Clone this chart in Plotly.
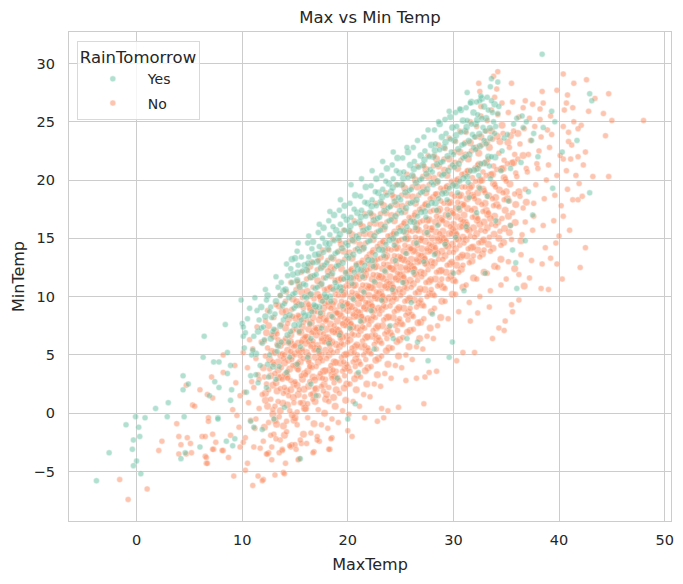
import plotly.graph_objects as go

# RainTomorrow = "Yes": (MaxTemp, MinTemp)
yes_pts = [
    (-3.8, -5.8), (-2.6, -3.4), (-1.0, -1.0), (-0.1, -0.3), (0.2, -1.2), (-0.3, -2.3), (0.3, -2.0),
    (-0.4, -3.1), (0.0, -4.1), (-0.3, -4.5), (0.4, -5.2), (0.8, -0.4), (1.8, 0.4), (2.9, -0.3),
    (3.0, 0.9), (4.4, 3.2), (4.4, 2.0), (4.9, 2.5), (4.5, -0.3), (4.2, -3.9), (4.6, -3.4), (6.4, 6.6),
    (6.3, 4.8), (7.3, 4.4), (7.8, 4.4), (8.4, 7.6), (8.9, 1.1), (6.0, -2.9), (7.7, -0.4), (9.1, -2.8),
    (9.3, -2.2), (9.9, 9.7), (10.1, 6.6), (10.0, 7.7), (8.6, 5.2), (8.9, 4.1), (8.6, 3.4), (9.0, 2.0),
    (7.4, 2.7), (7.8, 2.2), (6.9, 1.5), (11.1, -1.2), (11.9, -1.4), (10.8, -0.7), (20.7, 0.8),
    (20.0, -0.5), (15.5, -3.9), (7.7, -0.5), (8.5, -2.4),
    (38.4, 30.8), (42.9, 27.4), (43.1, 26.8), (34.2, 28.4), (33.6, 28.7), (33.5, 28.0), (31.3, 27.5),
    (32.5, 26.8), (39.6, 25.0), (39.3, 25.9), (38.5, 24.5), (36.0, 25.3), (36.5, 25.5), (36.9, 25.0),
    (36.6, 24.5), (37.6, 24.0), (37.4, 23.4), (40.3, 22.4), (41.7, 23.4), (42.9, 18.9), (39.4, 19.3),
    (35.4, 16.1), (35.9, 12.9), (36.0, 10.7), (29.6, 4.8), (27.6, 4.5), (26.6, 6.1), (25.6, 6.4),
    (24.3, 6.4), (29.9, 6.1),
    (10.2, 5.6), (10.5, 8.1), (10.8, 3.2), (10.3, 6.9), (10.7, 9.0), (10.4, 1.8), (10.9, 5.0), (10.1, 7.4),
    (11.1, 6.6), (11.4, 8.8), (11.7, 4.1), (11.2, 9.9), (11.8, 7.3), (11.5, 2.6), (11.0, 5.4), (11.6, 8.0),
    (11.3, 3.3), (11.9, 6.0),
    (12.0, 7.4), (12.3, 9.7), (12.6, 5.0), (12.2, 10.6), (12.8, 8.2), (12.5, 3.1), (12.1, 6.3), (12.7, 9.1),
    (12.4, 4.2), (12.9, 7.0), (12.3, 2.2), (12.6, 8.7),
    (13.1, 8.5), (13.4, 10.8), (13.7, 6.1), (13.2, 11.7), (13.8, 9.2), (13.5, 4.0), (13.0, 7.2), (13.6, 10.1),
    (13.3, 5.3), (13.9, 8.0), (13.2, 2.9), (13.7, 11.2),
    (14.0, 9.4), (14.3, 11.8), (14.6, 7.0), (14.2, 12.8), (14.8, 10.2), (14.5, 4.8), (14.1, 8.3), (14.7, 11.2),
    (14.4, 6.1), (14.9, 9.0), (14.2, 3.5), (14.6, 12.4),
    (15.0, 10.3), (15.3, 12.7), (15.6, 8.0), (15.2, 13.9), (15.8, 11.1), (15.5, 5.7), (15.1, 9.2), (15.7, 12.2),
    (15.4, 7.0), (15.9, 10.0), (15.2, 4.2), (15.6, 13.4), (15.3, 14.6), (15.8, 8.6),
    (16.0, 11.0), (16.3, 13.4), (16.6, 8.7), (16.2, 14.6), (16.8, 11.8), (16.5, 6.4), (16.1, 9.9), (16.7, 12.9),
    (16.4, 7.7), (16.9, 10.7), (16.2, 4.8), (16.6, 14.1), (16.3, 15.2), (16.8, 9.3),
    (17.0, 11.9), (17.3, 14.3), (17.6, 9.6), (17.2, 15.5), (17.8, 12.7), (17.5, 7.3), (17.1, 10.8), (17.7, 13.8),
    (17.4, 8.6), (17.9, 11.6), (17.2, 5.4), (17.6, 15.0), (17.3, 16.2), (17.8, 10.2),
    (18.0, 12.9), (18.3, 15.3), (18.6, 10.6), (18.2, 16.5), (18.8, 13.7), (18.5, 8.3), (18.1, 11.8), (18.7, 14.8),
    (18.4, 9.6), (18.9, 12.6), (18.2, 6.0), (18.6, 16.0), (18.3, 17.3), (18.8, 11.2),
    (19.0, 13.8), (19.3, 16.2), (19.6, 11.5), (19.2, 17.4), (19.8, 14.6), (19.5, 9.2), (19.1, 12.7), (19.7, 15.7),
    (19.4, 10.5), (19.9, 13.5), (19.2, 6.7), (19.6, 16.9), (19.3, 18.3), (19.8, 12.1),
    (20.0, 14.4), (20.3, 16.8), (20.6, 12.1), (20.2, 18.0), (20.8, 15.2), (20.5, 9.8), (20.1, 13.3), (20.7, 16.3),
    (20.4, 11.1), (20.9, 14.1), (20.2, 7.3), (20.6, 17.5), (20.3, 19.6), (20.8, 12.7),
    (21.0, 15.0), (21.3, 17.4), (21.6, 12.7), (21.2, 18.6), (21.8, 15.8), (21.5, 10.4), (21.1, 13.9), (21.7, 16.9),
    (21.4, 11.7), (21.9, 14.7), (21.2, 7.9), (21.6, 18.1), (21.3, 20.1),
    (22.0, 15.9), (22.3, 18.3), (22.6, 13.6), (22.2, 19.5), (22.8, 16.7), (22.5, 11.3), (22.1, 14.8), (22.7, 17.8),
    (22.4, 12.6), (22.9, 15.6), (22.2, 8.8), (22.6, 19.0), (22.3, 20.8),
    (23.0, 16.8), (23.3, 19.2), (23.6, 14.5), (23.2, 20.4), (23.8, 17.6), (23.5, 12.2), (23.1, 15.7), (23.7, 18.7),
    (23.4, 13.5), (23.9, 16.5), (23.2, 9.7), (23.6, 19.9), (23.3, 21.6),
    (24.0, 17.7), (24.3, 20.1), (24.6, 15.4), (24.2, 21.3), (24.8, 18.5), (24.5, 13.1), (24.1, 16.6), (24.7, 19.6),
    (24.4, 14.4), (24.9, 17.4), (24.2, 10.6), (24.6, 20.8), (24.3, 22.4),
    (25.0, 18.3), (25.3, 20.7), (25.6, 16.0), (25.2, 21.9), (25.8, 19.1), (25.5, 13.7), (25.1, 17.2), (25.7, 20.2),
    (25.4, 15.0), (25.9, 18.0), (25.2, 11.2), (25.6, 22.8),
    (26.0, 19.2), (26.3, 21.6), (26.6, 16.9), (26.2, 22.8), (26.8, 20.0), (26.5, 14.6), (26.1, 18.1), (26.7, 21.1),
    (26.4, 15.9), (26.9, 18.9), (26.2, 12.1), (26.6, 23.4),
    (27.0, 20.1), (27.3, 22.5), (27.6, 17.8), (27.2, 23.7), (27.8, 20.9), (27.5, 15.5), (27.1, 19.0), (27.7, 22.0),
    (27.4, 16.8), (27.9, 19.8), (27.2, 13.0), (27.6, 24.3),
    (28.0, 20.7), (28.3, 23.1), (28.6, 18.4), (28.2, 24.3), (28.8, 21.5), (28.5, 16.1), (28.1, 19.6), (28.7, 22.6),
    (28.4, 17.4), (28.9, 20.4), (28.2, 13.6), (28.6, 25.0),
    (29.0, 21.6), (29.3, 24.0), (29.6, 19.3), (29.2, 25.2), (29.8, 22.4), (29.5, 17.0), (29.1, 20.5), (29.7, 23.5),
    (29.4, 18.3), (29.9, 21.3), (29.2, 14.5), (29.6, 25.9),
    (30.0, 22.2), (30.3, 24.6), (30.6, 19.9), (30.2, 25.8), (30.8, 23.0), (30.5, 17.6), (30.1, 21.1), (30.7, 24.1),
    (30.4, 18.9), (30.9, 21.9), (30.2, 15.1), (30.6, 26.1),
    (31.0, 23.1), (31.3, 25.1), (31.6, 20.8), (31.2, 26.2), (31.8, 23.9), (31.5, 18.5), (31.1, 22.0), (31.7, 24.8),
    (31.4, 19.8), (31.9, 22.8), (31.2, 16.0), (31.6, 26.6),
    (32.0, 23.7), (32.3, 25.6), (32.6, 21.4), (32.2, 26.7), (32.8, 24.5), (32.5, 19.3), (32.1, 22.6), (32.7, 25.3),
    (32.4, 20.4), (32.9, 23.4), (32.2, 17.2), (32.6, 27.2),
    (33.0, 24.2), (33.3, 26.0), (33.6, 22.0), (33.2, 27.1), (33.8, 25.0), (33.5, 20.1), (33.1, 23.1), (33.7, 25.8),
    (33.4, 21.2), (33.9, 24.0), (33.2, 18.6), (33.6, 26.8),
    (34.0, 24.6), (34.3, 26.3), (34.6, 22.5), (34.2, 25.7), (34.8, 23.6), (34.5, 20.8),
    (35.1, 23.9), (35.4, 21.0), (35.7, 24.8), (35.2, 18.2),
    (36.4, 21.5), (37.1, 19.0), (38.0, 22.0), (36.8, 14.8), (37.5, 17.0), (35.6, 14.0), (33.0, 12.0),
    (31.0, 10.5), (28.0, 8.5), (26.0, 9.5), (22.5, 5.5), (24.0, 7.5), (19.0, 3.0), (17.0, 1.5), (14.0, 0.5),
    (13.0, -0.5), (16.5, 2.5), (21.0, 3.5), (30.0, 12.0), (34.0, 16.5),
]

# extra "Yes" points inside the crowded part of the band
yes_core = [
    (11.3, 5.1), (11.8, 9.1), (11.5, 7.0),
    (12.2, 8.3), (12.7, 6.4), (12.4, 10.1), (12.9, 4.0),
    (13.2, 9.6), (13.6, 7.5), (13.9, 10.5), (13.4, 5.8),
    (14.1, 10.6), (14.5, 8.4), (14.8, 11.9), (14.3, 6.7), (14.7, 13.2),
    (15.2, 11.4), (15.6, 9.3), (15.9, 12.7), (15.4, 7.6), (15.0, 13.3),
    (16.1, 12.3), (16.5, 10.2), (16.9, 13.6), (16.3, 8.4), (16.7, 14.7),
    (17.1, 13.0), (17.5, 11.1), (17.9, 14.6), (17.3, 9.1), (17.7, 15.9),
    (18.1, 14.1), (18.5, 12.0), (18.9, 15.7), (18.3, 10.0), (18.7, 17.0),
    (19.1, 15.0), (19.5, 12.9), (19.9, 16.6), (19.3, 10.8), (19.7, 17.8),
    (20.1, 15.6), (20.5, 13.6), (20.9, 17.2), (20.3, 11.6), (20.7, 18.7),
    (21.1, 16.4), (21.5, 14.2), (21.9, 18.0), (21.3, 12.3), (21.7, 19.4),
    (22.1, 17.2), (22.5, 15.2), (22.9, 18.9), (22.3, 13.1), (22.7, 20.1),
    (23.1, 18.1), (23.5, 16.0), (23.9, 19.7), (23.3, 14.0), (23.7, 21.0),
    (24.1, 19.0), (24.5, 16.9), (24.9, 20.6), (24.3, 15.0), (24.7, 21.9),
    (25.1, 19.6), (25.5, 17.6), (25.9, 21.3), (25.3, 15.6), (25.7, 22.4),
    (26.1, 20.4), (26.5, 18.3), (26.9, 22.1), (26.3, 16.4),
    (27.1, 21.3), (27.5, 19.2), (27.9, 23.0), (27.3, 17.3),
    (28.1, 22.0), (28.5, 19.9), (28.9, 23.7), (28.3, 18.0), (28.7, 24.8),
    (29.1, 22.8), (29.5, 20.8), (29.9, 24.5), (29.3, 18.9), (29.7, 25.4),
    (30.1, 23.4), (30.5, 21.4), (30.9, 25.1), (30.3, 19.5), (30.7, 26.0),
    (31.1, 24.2), (31.5, 22.2), (31.9, 25.8), (31.3, 20.3), (31.7, 26.7),
    (32.1, 24.8), (32.5, 22.9), (32.9, 26.3), (32.3, 21.0), (32.7, 27.0),
    (33.1, 25.3), (33.5, 23.6), (33.9, 26.5), (33.3, 22.0),
    (14.45, 9.95), (14.95, 7.55), (15.45, 10.85), (15.95, 8.35), (15.25, 12.05),
    (16.45, 11.65), (16.95, 9.15), (16.25, 12.85), (17.45, 12.45), (17.95, 9.95), (17.25, 13.65),
    (18.45, 13.35), (18.95, 10.85), (18.25, 14.55), (19.45, 14.15), (19.95, 11.65), (19.25, 15.35),
    (20.45, 14.85), (20.95, 12.35), (20.25, 16.05), (21.45, 15.65), (21.95, 13.15), (21.25, 16.85),
    (22.45, 16.55), (22.95, 14.05), (22.25, 17.75), (23.45, 17.35), (23.95, 14.85), (23.25, 18.55),
    (24.45, 18.15), (24.95, 15.65), (24.25, 19.35), (25.45, 18.95), (25.95, 16.45), (25.25, 20.15),
    (26.45, 19.75), (26.95, 17.25), (26.25, 20.95), (27.45, 20.55), (27.95, 18.05), (27.25, 21.75),
    (28.45, 21.35), (28.95, 18.85), (28.25, 22.55), (29.45, 22.05), (29.95, 19.55), (29.25, 23.25),
    (30.45, 22.65), (30.95, 20.15), (30.25, 23.85), (31.45, 23.35), (31.95, 20.85), (31.25, 24.55),
    (32.45, 23.95), (32.95, 21.45), (32.25, 25.15), (33.45, 24.45), (33.95, 21.95),
]

# RainTomorrow = "No"
no_pts = [
    (-1.6, -5.7), (-0.8, -7.4), (1.0, -6.5), (2.1, -3.2), (2.4, -2.4), (3.8, -0.9), (4.0, -2.0), (4.0, -3.5),
    (4.2, -2.7), (4.7, -3.5), (4.8, -2.1), (5.1, -2.6), (5.2, -3.4), (5.3, 0.7), (5.5, 0.6), (4.7, 2.4),
    (6.0, 2.0), (6.7, 1.6), (7.2, 1.3), (6.8, -0.4), (6.8, -0.7), (6.2, -2.0), (6.5, -2.0), (6.5, -3.7),
    (6.6, -4.3), (7.3, -3.1), (7.2, -1.8), (7.5, -2.5), (8.2, -3.2), (8.7, -3.8), (8.9, -1.9), (7.1, 3.1),
    (8.2, 5.0), (8.2, 3.5), (9.2, -5.4), (9.8, -2.9), (10.3, -4.9), (10.5, -4.3), (11.0, -6.2), (11.5, -5.4),
    (12.0, -5.7), (12.5, -3.4), (13.1, -5.3), (13.9, -5.1), (14.1, -4.3), (12.8, -2.9), (13.8, -3.1),
    (14.7, -2.7), (15.4, -3.9), (15.6, -2.6), (16.8, -3.3), (17.3, -2.4), (18.3, -3.1), (18.5, -2.1),
    (12.4, -3.5), (11.9, -5.8), (14.0, -5.2), (12.8, -4.0), (15.3, -4.0), (12.3, -3.5), (13.8, -3.2),
    (14.6, -2.9), (15.0, -2.7), (16.7, -3.4), (18.2, -3.1), (17.1, -2.3), (18.4, -2.2), (20.4, -2.0),
    (20.0, -1.5), (11.1, -2.9), (10.1, -2.5), (13.6, -2.3), (13.0, -1.8), (6.6, -3.8), (6.7, -4.3),
    (7.2, -3.1), (8.1, -3.2),
    (34.2, 29.3), (33.8, 28.9), (32.4, 28.3), (32.5, 27.6), (35.5, 28.3), (40.4, 29.1), (41.4, 28.3),
    (42.6, 28.6), (44.7, 27.4), (39.8, 27.7), (40.8, 27.3), (40.7, 26.6), (38.4, 27.6), (38.5, 26.6),
    (36.8, 26.8), (37.5, 26.5), (38.2, 26.1), (44.2, 25.7), (45.0, 25.1), (48.0, 25.1), (42.1, 24.7),
    (40.9, 24.1), (41.4, 25.0), (44.4, 23.8), (42.5, 22.4), (41.8, 22.0), (41.1, 21.8), (40.4, 21.8),
    (43.2, 20.3), (44.7, 20.3), (41.9, 19.7), (41.3, 18.3), (41.8, 18.3), (40.8, 19.2), (42.5, 14.2),
    (42.0, 12.5), (40.3, 11.5), (39.0, 10.6), (38.3, 10.7), (39.8, 12.8), (39.2, 13.3), (40.0, 15.2),
    (41.0, 15.7), (40.4, 16.9),
    (36.2, 9.7), (35.6, 8.7), (34.9, 7.9), (34.3, 7.3), (34.8, 7.1), (33.7, 6.4), (32.0, 5.2), (30.9, 5.2),
    (30.3, 4.5), (28.4, 3.6), (27.7, 3.5), (27.3, 3.1), (26.5, 3.0), (25.5, 2.8), (27.2, 0.8), (24.8, 0.5),
    (23.8, 0.2), (23.2, 0.4), (21.6, -0.4), (22.8, -0.7), (23.4, -0.4),
    (9.1, 0.3), (9.4, 2.6), (9.7, -1.2), (9.3, 4.1), (9.8, 1.5), (9.5, -0.2),
    (10.2, 1.8), (10.5, 3.9), (10.8, -0.6), (10.1, 5.2), (10.6, 0.9), (10.9, 2.7), (10.3, -2.1), (10.7, 6.3),
    (11.1, 2.2), (11.3, 4.7), (11.6, 0.4), (11.8, 6.1), (11.2, -1.3), (11.5, 3.3), (11.9, 1.6), (11.4, 7.4),
    (11.7, -3.0), (11.0, 5.5), (11.6, 2.9), (11.3, -0.5),
    (12.1, 3.1), (12.4, 5.6), (12.7, 1.2), (12.2, 7.9), (12.9, 4.4), (12.5, -0.8), (12.3, 2.5), (12.8, 6.7),
    (12.6, 3.8), (12.0, -2.4), (12.4, 8.8), (12.9, 0.3), (12.2, 4.9), (12.7, -1.9), (12.5, 2.0), (12.1, 6.2),
    (13.0, 4.2), (13.3, 6.8), (13.6, 2.1), (13.2, 9.3), (13.8, 5.1), (13.5, -0.3), (13.1, 3.4), (13.7, 7.6),
    (13.4, 1.0), (13.9, 4.7), (13.2, -2.2), (13.6, 10.1), (13.3, 5.9), (13.8, 2.9), (13.0, 8.2), (13.5, -3.4),
    (13.7, 3.9), (13.1, 0.6), (13.4, 6.3), (13.9, 1.7),
    (14.0, 5.0), (14.3, 7.7), (14.6, 2.8), (14.2, 10.4), (14.8, 4.1), (14.5, 0.2), (14.1, 6.4), (14.7, 8.9),
    (14.4, 1.5), (14.9, 5.7), (14.2, -1.6), (14.6, 11.2), (14.3, 3.6), (14.8, 7.1), (14.0, 2.2), (14.5, -2.8),
    (14.7, 4.6), (14.1, 9.6), (14.4, 6.0), (14.9, 0.9), (14.3, 3.0), (14.6, 5.3), (14.2, -0.7), (14.8, 8.3),
    (15.0, 5.8), (15.3, 8.4), (15.6, 3.2), (15.2, 11.3), (15.8, 4.7), (15.5, 0.9), (15.1, 7.2), (15.7, 9.9),
    (15.4, 2.0), (15.9, 6.5), (15.2, -1.0), (15.6, 12.1), (15.3, 4.3), (15.8, 7.8), (15.0, 2.7), (15.5, -2.3),
    (15.7, 5.5), (15.1, 10.6), (15.4, 6.9), (15.9, 1.4), (15.3, 3.7), (15.6, 6.1), (15.2, 0.1), (15.8, 9.0),
    (15.5, 4.9), (15.1, -3.1),
    (16.0, 6.6), (16.3, 9.3), (16.6, 3.9), (16.2, 12.2), (16.8, 5.4), (16.5, 1.6), (16.1, 8.0), (16.7, 10.8),
    (16.4, 2.7), (16.9, 7.3), (16.2, -0.4), (16.6, 13.0), (16.3, 5.0), (16.8, 8.7), (16.0, 3.3), (16.5, -1.7),
    (16.7, 6.2), (16.1, 11.5), (16.4, 7.6), (16.9, 2.1), (16.3, 4.4), (16.6, 6.9), (16.2, 0.8), (16.8, 9.8),
    (16.5, 5.7), (16.1, -2.6), (16.4, 4.0), (16.7, 1.2),
    (17.0, 7.2), (17.3, 10.0), (17.6, 4.5), (17.2, 13.1), (17.8, 6.1), (17.5, 2.3), (17.1, 8.7), (17.7, 11.6),
    (17.4, 3.4), (17.9, 7.9), (17.2, 0.3), (17.6, 14.0), (17.3, 5.6), (17.8, 9.4), (17.0, 4.0), (17.5, -1.0),
    (17.7, 6.8), (17.1, 12.3), (17.4, 8.3), (17.9, 2.9), (17.3, 5.1), (17.6, 7.5), (17.2, 1.5), (17.8, 10.6),
    (17.5, 6.4), (17.1, -2.0), (17.4, 4.7), (17.7, 1.9), (17.0, 9.1), (17.6, 3.0),
    (18.0, 8.0), (18.3, 10.8), (18.6, 5.2), (18.2, 14.0), (18.8, 6.9), (18.5, 3.0), (18.1, 9.5), (18.7, 12.4),
    (18.4, 4.1), (18.9, 8.6), (18.2, 1.0), (18.6, 14.9), (18.3, 6.3), (18.8, 10.2), (18.0, 4.7), (18.5, -0.5),
    (18.7, 7.5), (18.1, 13.1), (18.4, 9.0), (18.9, 3.6), (18.3, 5.8), (18.6, 8.2), (18.2, 2.2), (18.8, 11.4),
    (18.5, 7.1), (18.1, -1.3), (18.4, 5.4), (18.7, 2.6), (18.0, 9.9), (18.6, 3.7),
    (19.0, 8.6), (19.3, 11.5), (19.6, 5.9), (19.2, 14.8), (19.8, 7.5), (19.5, 3.6), (19.1, 10.1), (19.7, 13.2),
    (19.4, 4.8), (19.9, 9.3), (19.2, 1.7), (19.6, 15.7), (19.3, 6.9), (19.8, 10.9), (19.0, 5.3), (19.5, 0.2),
    (19.7, 8.1), (19.1, 13.9), (19.4, 9.6), (19.9, 4.2), (19.3, 6.4), (19.6, 8.9), (19.2, 2.8), (19.8, 12.0),
    (19.5, 7.7), (19.1, -0.8), (19.4, 6.0), (19.7, 3.2), (19.0, 10.5), (19.6, 4.4),
    (20.0, 9.4), (20.3, 12.3), (20.6, 6.7), (20.2, 15.6), (20.8, 8.3), (20.5, 4.4), (20.1, 10.9), (20.7, 14.0),
    (20.4, 5.6), (20.9, 10.1), (20.2, 2.5), (20.6, 16.5), (20.3, 7.7), (20.8, 11.7), (20.0, 6.1), (20.5, 1.0),
    (20.7, 8.9), (20.1, 14.7), (20.4, 10.4), (20.9, 5.0), (20.3, 7.2), (20.6, 9.7), (20.2, 3.6), (20.8, 12.8),
    (20.5, 8.5), (20.1, -0.1), (20.4, 6.8), (20.7, 4.0), (20.0, 11.3), (20.6, 5.2),
    (21.0, 10.0), (21.3, 12.9), (21.6, 7.3), (21.2, 16.2), (21.8, 8.9), (21.5, 5.0), (21.1, 11.5), (21.7, 14.6),
    (21.4, 6.2), (21.9, 10.7), (21.2, 3.1), (21.6, 17.1), (21.3, 8.3), (21.8, 12.3), (21.0, 6.7), (21.5, 1.6),
    (21.7, 9.5), (21.1, 15.3), (21.4, 11.0), (21.9, 5.6), (21.3, 7.8), (21.6, 10.3), (21.2, 4.2), (21.8, 13.4),
    (21.5, 9.1), (21.1, 0.6), (21.4, 7.4), (21.7, 4.6), (21.0, 11.9), (21.6, 5.8),
    (22.0, 10.9), (22.3, 13.8), (22.6, 8.2), (22.2, 17.1), (22.8, 9.8), (22.5, 5.9), (22.1, 12.4), (22.7, 15.5),
    (22.4, 7.1), (22.9, 11.6), (22.2, 4.0), (22.6, 18.0), (22.3, 9.2), (22.8, 13.2), (22.0, 7.6), (22.5, 2.5),
    (22.7, 10.4), (22.1, 16.2), (22.4, 11.9), (22.9, 6.5), (22.3, 8.7), (22.6, 11.2), (22.2, 5.1), (22.8, 14.3),
    (22.5, 10.0), (22.1, 1.4), (22.4, 8.3), (22.7, 5.5), (22.0, 12.8), (22.6, 6.7),
    (23.0, 11.8), (23.3, 14.7), (23.6, 9.1), (23.2, 18.0), (23.8, 10.7), (23.5, 6.8), (23.1, 13.3), (23.7, 16.4),
    (23.4, 8.0), (23.9, 12.5), (23.2, 4.9), (23.6, 18.9), (23.3, 10.1), (23.8, 14.1), (23.0, 8.5), (23.5, 3.4),
    (23.7, 11.3), (23.1, 17.1), (23.4, 12.8), (23.9, 7.4), (23.3, 9.6), (23.6, 12.1), (23.2, 6.0), (23.8, 15.2),
    (23.5, 10.9), (23.1, 2.3), (23.4, 9.2), (23.7, 6.4),
    (24.0, 12.5), (24.3, 15.4), (24.6, 9.8), (24.2, 18.7), (24.8, 11.4), (24.5, 7.5), (24.1, 14.0), (24.7, 17.1),
    (24.4, 8.7), (24.9, 13.2), (24.2, 5.6), (24.6, 19.6), (24.3, 10.8), (24.8, 14.8), (24.0, 9.2), (24.5, 4.1),
    (24.7, 12.0), (24.1, 17.8), (24.4, 13.5), (24.9, 8.1), (24.3, 10.3), (24.6, 12.8), (24.2, 6.7), (24.8, 15.9),
    (24.5, 11.6), (24.1, 3.0), (24.4, 9.9), (24.7, 7.1),
    (25.0, 13.4), (25.3, 16.3), (25.6, 10.7), (25.2, 19.6), (25.8, 12.3), (25.5, 8.4), (25.1, 14.9), (25.7, 18.0),
    (25.4, 9.6), (25.9, 14.1), (25.2, 6.5), (25.6, 20.5), (25.3, 11.7), (25.8, 15.7), (25.0, 10.1), (25.5, 5.0),
    (25.7, 12.9), (25.1, 18.7), (25.4, 14.4), (25.9, 9.0), (25.3, 11.2), (25.6, 13.7), (25.2, 7.6), (25.8, 16.8),
    (25.5, 12.5), (25.1, 3.9), (25.4, 10.8), (25.7, 8.0),
    (26.0, 14.1), (26.3, 17.0), (26.6, 11.4), (26.2, 20.3), (26.8, 13.0), (26.5, 9.1), (26.1, 15.6), (26.7, 18.7),
    (26.4, 10.3), (26.9, 14.8), (26.2, 7.2), (26.6, 21.2), (26.3, 12.4), (26.8, 16.4), (26.0, 10.8), (26.5, 5.7),
    (26.7, 13.6), (26.1, 19.4), (26.4, 15.1), (26.9, 9.7), (26.3, 11.9), (26.6, 14.4), (26.2, 8.3), (26.8, 17.5),
    (26.5, 13.2), (26.1, 4.6),
    (27.0, 15.0), (27.3, 17.9), (27.6, 12.3), (27.2, 21.2), (27.8, 13.9), (27.5, 10.0), (27.1, 16.5), (27.7, 19.6),
    (27.4, 11.2), (27.9, 15.7), (27.2, 8.1), (27.6, 22.1), (27.3, 13.3), (27.8, 17.3), (27.0, 11.7), (27.5, 6.6),
    (27.7, 14.5), (27.1, 20.3), (27.4, 16.0), (27.9, 10.6), (27.3, 12.8), (27.6, 15.3), (27.2, 9.2), (27.8, 18.4),
    (27.5, 14.1), (27.1, 5.5),
    (28.0, 15.9), (28.3, 18.8), (28.6, 13.2), (28.2, 22.1), (28.8, 14.8), (28.5, 10.9), (28.1, 17.4), (28.7, 20.5),
    (28.4, 12.1), (28.9, 16.6), (28.2, 9.0), (28.6, 23.0), (28.3, 14.2), (28.8, 18.2), (28.0, 12.6), (28.5, 7.5),
    (28.7, 15.4), (28.1, 21.2), (28.4, 16.9), (28.9, 11.5), (28.3, 13.7), (28.6, 16.2), (28.2, 10.1), (28.8, 19.3),
    (28.5, 15.0), (28.1, 6.4),
    (29.0, 16.5), (29.3, 19.4), (29.6, 13.8), (29.2, 22.7), (29.8, 15.4), (29.5, 11.5), (29.1, 18.0), (29.7, 21.1),
    (29.4, 12.7), (29.9, 17.2), (29.2, 9.6), (29.6, 23.6), (29.3, 14.8), (29.8, 18.8), (29.0, 13.2), (29.5, 8.1),
    (29.7, 16.0), (29.1, 21.8), (29.4, 17.5), (29.9, 12.1), (29.3, 14.3), (29.6, 16.8), (29.2, 10.7), (29.8, 19.9),
    (30.0, 17.1), (30.3, 20.0), (30.6, 14.4), (30.2, 23.3), (30.8, 16.0), (30.5, 12.1), (30.1, 18.6), (30.7, 21.7),
    (30.4, 13.3), (30.9, 17.8), (30.2, 10.2), (30.6, 24.2), (30.3, 15.4), (30.8, 19.4), (30.0, 13.8), (30.5, 8.7),
    (30.7, 16.6), (30.1, 22.4), (30.4, 18.1), (30.9, 12.7), (30.3, 14.9), (30.6, 17.4), (30.2, 11.3), (30.8, 20.5),
    (31.0, 17.9), (31.3, 20.8), (31.6, 15.2), (31.2, 24.1), (31.8, 16.8), (31.5, 12.9), (31.1, 19.4), (31.7, 22.5),
    (31.4, 14.1), (31.9, 18.6), (31.2, 11.0), (31.6, 25.0), (31.3, 16.2), (31.8, 20.2), (31.0, 14.6), (31.5, 9.5),
    (31.7, 17.4), (31.1, 23.2), (31.4, 18.9), (31.9, 13.5), (31.3, 15.7), (31.6, 7.9),
    (32.0, 18.4), (32.3, 21.3), (32.6, 15.7), (32.2, 24.6), (32.8, 17.3), (32.5, 13.4), (32.1, 19.9), (32.7, 23.0),
    (32.4, 14.6), (32.9, 19.1), (32.2, 11.5), (32.6, 25.5), (32.3, 16.7), (32.8, 20.7), (32.0, 15.1), (32.5, 10.0),
    (32.7, 17.9), (32.1, 23.7), (32.4, 19.4), (32.9, 14.0), (32.3, 8.6), (32.6, 26.3),
    (33.0, 18.9), (33.3, 21.8), (33.6, 16.2), (33.2, 25.1), (33.8, 17.8), (33.5, 13.9), (33.1, 20.4), (33.7, 23.5),
    (33.4, 15.1), (33.9, 19.6), (33.2, 12.0), (33.6, 26.0), (33.3, 17.2), (33.8, 21.2), (33.0, 15.6), (33.5, 10.5),
    (33.7, 18.4), (33.1, 24.2), (33.4, 9.1), (33.9, 27.1),
    (34.0, 19.4), (34.3, 22.3), (34.6, 16.7), (34.2, 25.6), (34.8, 18.3), (34.5, 14.4), (34.1, 20.9), (34.7, 24.0),
    (34.4, 15.6), (34.9, 20.1), (34.2, 12.5), (34.6, 26.6), (34.3, 17.7), (34.8, 21.7), (34.0, 16.1), (34.5, 11.0),
    (34.7, 18.9), (34.1, 27.8),
    (35.0, 19.9), (35.3, 22.8), (35.6, 17.2), (35.2, 25.8), (35.8, 18.8), (35.5, 14.9), (35.1, 21.4), (35.7, 24.2),
    (35.4, 16.1), (35.9, 20.6), (35.2, 13.0), (35.6, 26.7), (35.3, 18.2), (35.8, 22.2), (35.0, 11.5), (35.5, 9.3),
    (36.0, 20.3), (36.3, 23.1), (36.6, 17.6), (36.2, 25.4), (36.8, 19.2), (36.5, 15.3), (36.1, 21.8), (36.7, 24.4),
    (36.4, 13.6), (36.9, 21.0), (36.2, 11.9), (36.6, 26.2), (36.3, 18.6), (36.8, 16.4),
    (37.0, 20.7), (37.3, 23.4), (37.6, 18.0), (37.2, 25.3), (37.8, 19.6), (37.5, 15.7), (37.1, 22.2), (37.7, 24.6),
    (37.4, 13.1), (37.9, 21.4), (37.2, 11.6), (37.6, 16.9),
    (38.0, 21.0), (38.3, 23.7), (38.6, 18.4), (38.2, 25.2), (38.8, 20.0), (38.5, 16.1), (38.1, 22.5), (38.7, 14.2),
    (38.4, 12.8), (38.9, 24.3),
    (39.0, 21.3), (39.3, 23.9), (39.6, 18.7), (39.2, 25.5), (39.8, 20.4), (39.5, 16.5), (39.1, 22.8), (39.7, 14.6),
    (40.1, 22.1), (40.4, 24.6), (40.7, 20.8), (40.2, 17.8), (40.9, 23.3), (40.5, 26.0),
    (41.2, 23.0), (41.6, 20.4), (41.3, 26.2), (41.8, 24.4), (42.3, 21.3), (42.8, 25.9), (43.4, 27.0), (42.2, 18.6),
]

# extra "No" points where the cloud is thickest
no_core = [
    (12.2, 1.7), (12.8, 5.3), (12.4, 0.6), (12.7, 3.2), (12.3, 6.9), (12.9, 2.4), (12.1, -1.2), (12.6, 4.6),
    (12.0, 3.9), (12.5, 7.5), (12.9, -0.1), (12.2, 1.1),
    (13.2, 2.6), (13.9, 6.1), (13.4, 4.4), (13.6, 0.2), (13.1, 5.2), (13.8, 8.7), (13.3, 1.9), (13.7, 3.1),
    (13.0, 6.6), (13.5, 9.2), (13.9, -1.1), (13.4, 3.7), (13.6, 5.8), (13.1, -0.6),
    (14.1, 3.3), (14.6, 6.7), (14.3, 0.7), (14.9, 2.5), (14.4, 8.1), (14.0, 4.3), (14.7, 5.9), (14.2, 1.9),
    (14.8, 9.8), (14.5, 3.8), (14.1, 7.3), (14.9, -0.6), (14.3, 5.4), (14.6, 2.0), (14.0, -1.9), (14.7, 4.9),
    (15.1, 4.1), (15.7, 7.4), (15.3, 1.6), (15.9, 3.4), (15.4, 9.3), (15.0, 5.1), (15.8, 6.3), (15.2, 2.4),
    (15.6, 10.4), (15.5, 4.4), (15.1, 8.1), (15.9, 0.4), (15.3, 6.0), (15.7, 2.9), (15.0, -0.4), (15.6, 5.3),
    (15.4, 11.0), (15.8, -1.8),
    (16.1, 5.2), (16.7, 8.2), (16.3, 2.3), (16.9, 4.8), (16.4, 10.1), (16.0, 6.0), (16.8, 7.0), (16.2, 3.6),
    (16.6, 11.7), (16.5, 4.1), (16.1, 9.4), (16.9, 1.0), (16.3, 7.2), (16.7, 3.1), (16.0, 0.4), (16.6, 5.9),
    (16.4, 12.6), (16.8, -0.9), (16.2, 6.5), (16.5, 8.9),
    (17.1, 5.8), (17.7, 9.0), (17.3, 3.1), (17.9, 5.4), (17.4, 11.0), (17.0, 6.7), (17.8, 8.1), (17.2, 4.4),
    (17.6, 12.6), (17.5, 5.0), (17.1, 10.2), (17.9, 1.2), (17.3, 8.0), (17.7, 3.6), (17.0, 2.1), (17.6, 6.2),
    (17.4, 13.4), (17.8, 0.0), (17.2, 7.3), (17.5, 9.7),
    (18.1, 6.5), (18.7, 9.6), (18.3, 3.7), (18.9, 5.9), (18.4, 11.8), (18.0, 7.2), (18.8, 8.8), (18.2, 5.0),
    (18.6, 13.3), (18.5, 6.1), (18.1, 10.6), (18.9, 2.0), (18.3, 8.4), (18.7, 4.4), (18.0, 1.6), (18.6, 7.0),
    (18.4, 12.5), (18.8, 0.6), (18.2, 9.2), (18.5, 3.3),
    (19.1, 7.1), (19.7, 10.3), (19.3, 4.3), (19.9, 6.6), (19.4, 12.4), (19.0, 7.9), (19.8, 9.4), (19.2, 5.7),
    (19.6, 13.9), (19.5, 6.5), (19.1, 11.4), (19.9, 2.5), (19.3, 9.2), (19.7, 5.0), (19.0, 3.0), (19.6, 7.6),
    (19.4, 14.5), (19.8, 1.1), (19.2, 8.5), (19.5, 10.7),
    (20.1, 8.0), (20.7, 11.0), (20.3, 5.2), (20.9, 7.3), (20.4, 13.3), (20.0, 8.8), (20.8, 10.2), (20.2, 6.3),
    (20.6, 14.8), (20.5, 7.4), (20.1, 12.1), (20.9, 3.3), (20.3, 10.0), (20.7, 5.7), (20.0, 3.9), (20.6, 8.3),
    (20.4, 15.3), (20.8, 2.0), (20.2, 9.1), (20.5, 11.6),
    (21.1, 8.6), (21.7, 11.9), (21.3, 5.7), (21.9, 8.1), (21.4, 14.1), (21.0, 9.4), (21.8, 10.9), (21.2, 7.1),
    (21.6, 15.4), (21.5, 8.0), (21.1, 12.8), (21.9, 3.9), (21.3, 10.6), (21.7, 6.5), (21.0, 4.4), (21.6, 9.0),
    (21.4, 16.0), (21.8, 2.5), (21.2, 9.9), (21.5, 12.2),
    (22.1, 9.5), (22.7, 12.6), (22.3, 6.6), (22.9, 9.0), (22.4, 14.9), (22.0, 10.1), (22.8, 11.8), (22.2, 8.0),
    (22.6, 16.3), (22.5, 8.8), (22.1, 13.6), (22.9, 4.7), (22.3, 11.5), (22.7, 7.3), (22.0, 5.3), (22.6, 9.9),
    (22.4, 16.9), (22.8, 3.3), (22.2, 10.8), (22.5, 13.1),
    (23.1, 10.4), (23.7, 13.5), (23.3, 7.5), (23.9, 9.9), (23.4, 15.8), (23.0, 11.0), (23.8, 12.7), (23.2, 8.9),
    (23.6, 17.2), (23.5, 9.7), (23.1, 14.5), (23.9, 5.6), (23.3, 12.4), (23.7, 8.2), (23.0, 6.2), (23.6, 10.8),
    (23.4, 17.8), (23.8, 4.2), (23.2, 11.7), (23.5, 14.0),
    (24.1, 11.1), (24.7, 14.2), (24.3, 8.2), (24.9, 10.6), (24.4, 16.5), (24.0, 11.7), (24.8, 13.4), (24.2, 9.6),
    (24.6, 17.9), (24.5, 10.4), (24.1, 15.2), (24.9, 6.3), (24.3, 13.1), (24.7, 8.9), (24.0, 6.9), (24.6, 11.5),
    (24.4, 18.5), (24.8, 4.9), (24.2, 12.4), (24.5, 14.7),
    (25.1, 11.9), (25.7, 15.0), (25.3, 9.0), (25.9, 11.4), (25.4, 17.3), (25.0, 12.5), (25.8, 14.2), (25.2, 10.4),
    (25.6, 18.7), (25.5, 11.2), (25.1, 16.0), (25.9, 7.1), (25.3, 13.9), (25.7, 9.7), (25.0, 7.7), (25.6, 12.3),
    (25.4, 19.3), (25.8, 5.7), (25.2, 13.2), (25.5, 15.5),
    (26.1, 12.6), (26.7, 15.7), (26.3, 9.7), (26.9, 12.1), (26.4, 18.0), (26.0, 13.2), (26.8, 14.9), (26.2, 11.1),
    (26.6, 19.4), (26.5, 11.9), (26.1, 16.7), (26.9, 7.8), (26.3, 14.6), (26.7, 10.4), (26.0, 8.4), (26.6, 13.0),
    (26.4, 20.0), (26.8, 6.4), (26.2, 13.9), (26.5, 16.2),
    (27.1, 13.5), (27.7, 16.6), (27.3, 10.6), (27.9, 13.0), (27.4, 18.9), (27.0, 14.1), (27.8, 15.8), (27.2, 12.0),
    (27.6, 20.3), (27.5, 12.8), (27.1, 17.6), (27.9, 8.7), (27.3, 15.5), (27.7, 11.3), (27.0, 9.3), (27.6, 13.9),
    (27.4, 20.9), (27.8, 7.3),
    (28.1, 14.4), (28.7, 17.5), (28.3, 11.5), (28.9, 13.9), (28.4, 19.8), (28.0, 15.0), (28.8, 16.7), (28.2, 12.9),
    (28.6, 21.2), (28.5, 13.7), (28.1, 18.5), (28.9, 9.6), (28.3, 16.4), (28.7, 12.2), (28.0, 10.2), (28.6, 14.8),
    (28.4, 21.8), (28.8, 8.2),
    (29.1, 15.0), (29.7, 18.1), (29.3, 12.1), (29.9, 14.5), (29.4, 20.4), (29.0, 15.6), (29.8, 17.3), (29.2, 13.5),
    (29.6, 21.8), (29.5, 14.3), (29.1, 19.1), (29.9, 10.2), (29.3, 17.0), (29.7, 12.8), (29.0, 10.8), (29.6, 15.4),
    (30.1, 15.6), (30.7, 18.7), (30.3, 12.7), (30.9, 15.1), (30.4, 21.0), (30.0, 16.2), (30.8, 17.9), (30.2, 14.1),
    (30.6, 22.4), (30.5, 14.9), (30.1, 19.7), (30.9, 10.8), (30.3, 17.6), (30.7, 13.4), (30.0, 11.4), (30.6, 16.0),
    (31.1, 16.4), (31.7, 19.5), (31.3, 13.5), (31.9, 15.9), (31.4, 21.8), (31.0, 17.0), (31.8, 18.7), (31.2, 14.9),
    (31.6, 23.2), (31.5, 15.7), (31.1, 20.5), (31.9, 11.6), (31.3, 18.4), (31.7, 14.2),
    (32.1, 16.9), (32.7, 20.0), (32.3, 14.0), (32.9, 16.4), (32.4, 22.3), (32.0, 17.5), (32.8, 19.2), (32.2, 15.4),
    (32.6, 23.7), (32.5, 16.2), (32.1, 21.0), (32.9, 12.1), (32.3, 18.9), (32.7, 14.7),
    (33.1, 17.4), (33.7, 20.5), (33.3, 14.5), (33.9, 16.9), (33.4, 22.8), (33.0, 18.0), (33.8, 19.7), (33.2, 15.9),
    (33.6, 24.2), (33.5, 16.7), (33.1, 21.5), (33.9, 12.6),
    (34.1, 17.9), (34.7, 21.0), (34.3, 15.0), (34.9, 17.4), (34.4, 23.3), (34.0, 18.5), (34.8, 20.2), (34.2, 16.4),
    (34.6, 24.7), (34.5, 13.2),
    (35.1, 18.4), (35.7, 21.5), (35.3, 15.5), (35.9, 17.9), (35.4, 23.8), (35.0, 19.0), (35.8, 12.4), (35.2, 16.9),
    (36.2, 19.0), (36.6, 22.1), (36.4, 14.8), (36.9, 18.1), (36.1, 24.0), (36.7, 10.9),
]

# a third pass over the thickest orange region
no_fill = [
    (13.45, 3.05), (13.85, 0.85), (13.15, 7.05), (13.65, 4.95), (13.25, -0.95),
    (14.35, 4.55), (14.85, 1.35), (14.15, 8.75), (14.55, 6.15), (14.75, -0.15), (14.25, 3.15),
    (15.35, 5.35), (15.85, 2.05), (15.15, 9.55), (15.55, 6.95), (15.75, 0.85), (15.25, 3.85), (15.45, 8.25),
    (16.35, 6.15), (16.85, 2.85), (16.15, 10.45), (16.55, 7.75), (16.75, 1.65), (16.25, 4.65), (16.45, 9.05),
    (16.95, 5.55),
    (17.35, 6.95), (17.85, 3.65), (17.15, 11.35), (17.55, 8.55), (17.75, 2.45), (17.25, 5.35), (17.45, 9.95),
    (17.95, 6.45),
    (18.35, 7.65), (18.85, 4.35), (18.15, 12.15), (18.55, 9.35), (18.75, 3.15), (18.25, 6.05), (18.45, 10.75),
    (18.95, 7.15), (18.65, 1.35),
    (19.35, 8.35), (19.85, 5.05), (19.15, 12.95), (19.55, 10.15), (19.75, 3.85), (19.25, 6.75), (19.45, 11.55),
    (19.95, 7.85), (19.65, 2.15),
    (20.35, 9.15), (20.85, 5.85), (20.15, 13.75), (20.55, 10.95), (20.75, 4.65), (20.25, 7.55), (20.45, 12.35),
    (20.95, 8.65), (20.65, 2.95),
    (21.35, 9.85), (21.85, 6.55), (21.15, 14.45), (21.55, 11.65), (21.75, 5.35), (21.25, 8.25), (21.45, 13.05),
    (21.95, 9.35), (21.65, 3.65),
    (22.35, 10.75), (22.85, 7.45), (22.15, 15.35), (22.55, 12.55), (22.75, 6.25), (22.25, 9.15), (22.45, 13.95),
    (22.95, 10.25), (22.65, 4.55),
    (23.35, 11.55), (23.85, 8.25), (23.15, 16.15), (23.55, 13.35), (23.75, 7.05), (23.25, 9.95), (23.45, 14.75),
    (23.95, 11.05), (23.65, 5.35),
    (24.35, 12.35), (24.85, 9.05), (24.15, 16.95), (24.55, 14.15), (24.75, 7.85), (24.25, 10.75), (24.45, 15.55),
    (24.95, 11.85), (24.65, 6.15),
    (25.35, 13.15), (25.85, 9.85), (25.15, 17.75), (25.55, 14.95), (25.75, 8.65), (25.25, 11.55), (25.45, 16.35),
    (25.95, 12.65), (25.65, 6.95),
    (26.35, 13.95), (26.85, 10.65), (26.15, 18.55), (26.55, 15.75), (26.75, 9.45), (26.25, 12.35), (26.45, 17.15),
    (26.95, 13.45), (26.65, 7.75),
    (27.35, 14.75), (27.85, 11.45), (27.15, 19.35), (27.55, 16.55), (27.75, 10.25), (27.25, 13.15), (27.45, 17.95),
    (27.95, 14.25),
    (28.35, 15.55), (28.85, 12.25), (28.15, 20.15), (28.55, 17.35), (28.75, 11.05), (28.25, 13.95), (28.45, 18.75),
    (28.95, 15.05),
    (29.35, 16.25), (29.85, 12.95), (29.15, 20.85), (29.55, 18.05), (29.75, 11.75), (29.25, 14.65), (29.45, 19.45),
    (29.95, 15.75),
    (30.35, 16.85), (30.85, 13.55), (30.15, 21.45), (30.55, 18.65), (30.75, 12.35), (30.25, 15.25), (30.45, 20.05),
    (30.95, 16.35),
    (31.35, 17.55), (31.85, 14.25), (31.15, 22.15), (31.55, 19.35), (31.75, 13.05), (31.25, 15.95), (31.45, 20.75),
    (32.35, 18.15), (32.85, 14.85), (32.15, 22.75), (32.55, 19.95), (32.75, 13.65), (32.25, 16.55), (32.45, 21.35),
    (33.35, 18.65), (33.85, 15.35), (33.15, 23.25), (33.55, 20.45), (33.75, 14.15), (33.25, 17.05),
    (34.35, 19.15), (34.85, 15.85), (34.15, 23.75), (34.55, 20.95), (34.75, 14.65),
    (35.35, 19.65), (35.85, 16.35), (35.15, 23.25), (35.55, 21.45),
]

labels = ["Yes", "No"]
x_ticks = [0, 10, 20, 30, 40, 50]
y_ticks = [-5, 0, 5, 10, 15, 20, 25, 30]

ink = "#262626"
grid = "#cccccc"
c_yes = "#66c2a5"
c_no = "#fc8d62"

no_thick = no_core + no_fill


def dots(pts, name, color, size, rank, show):
    return go.Scatter(
        x=[p[0] for p in pts], y=[p[1] for p in pts], mode="markers", name=name,
        legendgroup=name, showlegend=show, legendrank=rank,
        marker=dict(size=size, color=color, opacity=0.5, line=dict(width=0.4, color="white")),
    )


fig = go.Figure()
# crowded middle first with slightly bigger dots, then the rest on top
fig.add_trace(dots(no_thick, labels[1], c_no, 7.5, 2, False))
fig.add_trace(dots(no_pts, labels[1], c_no, 6, 2, True))
fig.add_trace(dots(yes_core, labels[0], c_yes, 7, 1, False))
fig.add_trace(dots(yes_pts, labels[0], c_yes, 6, 1, True))

axis_common = dict(
    showgrid=True, gridcolor=grid, gridwidth=1, zeroline=False,
    showline=True, linecolor=grid, linewidth=1.3, mirror=True,
    ticks="", tickfont=dict(size=14.5, color=ink), automargin=False,
)
fig.update_xaxes(range=[-6.4, 50.6], tickvals=x_ticks, ticklabelstandoff=5,
                 title=dict(text="MaxTemp", font=dict(size=16, color=ink), standoff=12),
                 **axis_common)
fig.update_yaxes(range=[-9.25, 32.7], tickvals=y_ticks, ticklabelstandoff=10,
                 title=dict(text="MinTemp", font=dict(size=16, color=ink), standoff=4),
                 **axis_common)

fig.update_layout(
    width=683, height=584,
    margin=dict(l=69, r=12, t=32, b=63),
    paper_bgcolor="white", plot_bgcolor="white",
    font=dict(family="DejaVu Sans", color=ink),
    title=dict(text="Max vs Min Temp", x=0.5, xref="paper", xanchor="center",
               y=0.971, yref="container", yanchor="middle", font=dict(size=16.5, color=ink)),
    legend=dict(
        title=dict(text="RainTomorrow", font=dict(size=16.5, color=ink)),
        x=0.013, y=0.982, xanchor="left", yanchor="top",
        bgcolor="rgba(255,255,255,0.8)", bordercolor="#d9d9d9", borderwidth=1,
        font=dict(size=14, color=ink), itemwidth=60, tracegroupgap=3,
    ),
    showlegend=True,
)

# the page's default 8px body margin would shift the whole figure
fig.write_html("out.html", config={"displayModeBar": False},
               post_script="document.body.style.margin='0px';")
